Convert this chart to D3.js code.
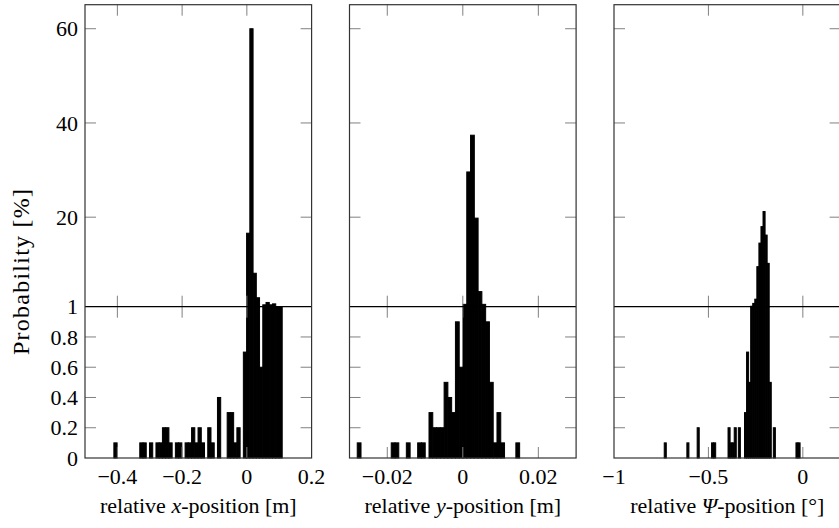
<!DOCTYPE html>
<html>
<head>
<meta charset="utf-8">
<script src="https://cdn.jsdelivr.net/npm/d3@7/dist/d3.min.js"></script>
<style>
    body { margin: 0; background: #fff; }
    svg { display: block; }
    text { font-family: "Liberation Serif", "Times New Roman", serif; fill: #000; }
</style>
</head>
<body>
<svg id="mainsvg" width="839" height="528"></svg>
<script>
// histogram values in %, one entry per bin
let xPosBins = [0.1, 0, 0, 0, 0, 0, 0, 0, 0.1, 0.1,
                0, 0.1, 0, 0.1, 0.1, 0.2, 0.2, 0.1, 0, 0.1,
                0.1, 0, 0.1, 0.1, 0.2, 0.1, 0.2, 0.1, 0, 0.2,
                0.1, 0, 0.4, 0, 0, 0.3, 0.3, 0.1, 0.2, 0,
                0.7, 16.6, 60, 8.1, 2.9, 0.6, 1.4, 1.9, 1.4, 1.6,
                1.0, 1.0];
let xPosBinStart = -0.4108;
let xPosBinWidth = 0.01;

let yPosBins = [0.1, 0, 0, 0, 0, 0, 0, 0, 0, 0.1,
                0.1, 0, 0, 0.1, 0, 0, 0.1, 0.1, 0, 0.3,
                0.2, 0.2, 0.2, 0.5, 0.4, 0.3, 0.9, 0.6, 1.5, 29.6,
                37.4, 19.8, 4.2, 1.5, 0.9, 0.5, 0.1, 0.3, 0.1, 0,
                0, 0, 0.1];
let yPosBinStart = -0.02795;
let yPosBinWidth = 0.001;

let psiBins = [0.1, 0, 0, 0, 0, 0, 0, 0, 0, 0,
               0, 0.1, 0, 0, 0, 0, 0.2, 0, 0, 0,
               0, 0, 0, 0.1, 0.1, 0, 0, 0, 0, 0,
               0, 0.2, 0.1, 0.1, 0.2, 0, 0.2, 0, 0, 0.3,
               0.7, 0.5, 1.1, 1.7, 2.6, 9.5, 14.5, 18.0, 21.2, 16.2,
               10.2, 0.5, 0, 0.2, 0, 0, 0, 0, 0, 0,
               0, 0, 0, 0, 0.1, 0.1];
let psiBinStart = -0.734;
let psiBinWidth = 0.0109;

// axes
let xPosDomain = [-0.5, 0.2];
let xPosTicks = [-0.4, -0.2, 0, 0.2];
let xPosTickLabels = ["\u22120.4", "\u22120.2", "0", "0.2"];
let yPosDomain = [-0.03, 0.03];
let yPosTicks = [-0.02, 0, 0.02];
let yPosTickLabels = ["\u22120.02", "0", "0.02"];
let psiDomain = [-1, 0.2];
let psiTicks = [-1, -0.5, 0];
let psiTickLabels = ["\u22121", "\u22120.5", "0"];

let upperDomain = [1, 65.1];
let upperTicks = [1, 20, 40, 60];
let upperTickLabels = ["1", "20", "40", "60"];
let lowerDomain = [0, 1];
let lowerTicks = [0, 0.2, 0.4, 0.6, 0.8];
let lowerTickLabels = ["0", "0.2", "0.4", "0.6", "0.8"];

let axisLabels = [
    ["relative ", "x", "-position [m]"],
    ["relative ", "y", "-position [m]"],
    ["relative ", "\u03A8", "-position [\u00B0]"]
];

let HistPlot = function () {
    let that = this;
    let svg = d3.select("#mainsvg");

    let panelLeft = [85, 349.5, 614];
    let panelW = 226.6;
    let topY = 4.7, breakY = 306.7, bottomY = 458;
    let tickLen = 11;
    let fontSize = 22;

    let yUpper = d3.scaleLinear().domain(upperDomain).range([breakY, topY]);
    let yLower = d3.scaleLinear().domain(lowerDomain).range([bottomY, breakY]);

    let panels = [
        {bins: xPosBins, start: xPosBinStart, width: xPosBinWidth, domain: xPosDomain, ticks: xPosTicks, labels: xPosTickLabels},
        {bins: yPosBins, start: yPosBinStart, width: yPosBinWidth, domain: yPosDomain, ticks: yPosTicks, labels: yPosTickLabels},
        {bins: psiBins, start: psiBinStart, width: psiBinWidth, domain: psiDomain, ticks: psiTicks, labels: psiTickLabels}
    ];

    that.drawPanel = function (p, k) {
        let x0 = panelLeft[k], x1 = x0 + panelW;
        let xs = d3.scaleLinear().domain(p.domain).range([x0, x1]);
        let g = svg.append("g").attr("class", "panel");

        let data = p.bins.map((v, i) => ({v: v, a: p.start + i * p.width, b: p.start + (i + 1) * p.width}))
            .filter(d => d.v > 0);

        // lower part, values capped at 1
        g.append("g").selectAll("rect").data(data).enter()
            .append("rect")
            .attr("x", d => xs(d.a))
            .attr("width", d => xs(d.b) - xs(d.a))
            .attr("y", d => yLower(Math.min(d.v, 1)))
            .attr("height", d => yLower(0) - yLower(Math.min(d.v, 1)))
            .attr("fill", "#000").attr("stroke", "#000").attr("stroke-width", 1);

        // upper part, only bins above 1
        g.append("g").selectAll("rect").data(data.filter(d => d.v > 1)).enter()
            .append("rect")
            .attr("x", d => xs(d.a))
            .attr("width", d => xs(d.b) - xs(d.a))
            .attr("y", d => yUpper(d.v))
            .attr("height", d => yUpper(1) - yUpper(d.v))
            .attr("fill", "#000").attr("stroke", "#000").attr("stroke-width", 1);

        // ticks
        let tickg = g.append("g").attr("stroke", "#808080").attr("stroke-width", 1);
        let inner = p.ticks.filter(t => t > p.domain[0] && t < p.domain[1]);
        inner.forEach(t => {
            let x = xs(t);
            tickg.append("line").attr("x1", x).attr("x2", x).attr("y1", topY).attr("y2", topY + tickLen);
            tickg.append("line").attr("x1", x).attr("x2", x).attr("y1", breakY - tickLen).attr("y2", breakY + tickLen);
            tickg.append("line").attr("x1", x).attr("x2", x).attr("y1", bottomY - tickLen).attr("y2", bottomY);
        });
        let yt = upperTicks.filter(t => t > 1).map(t => yUpper(t))
            .concat(lowerTicks.filter(t => t > 0).map(t => yLower(t)));
        yt.forEach(y => {
            tickg.append("line").attr("x1", x0).attr("x2", x0 + tickLen).attr("y1", y).attr("y2", y);
            tickg.append("line").attr("x1", x1 - tickLen).attr("x2", x1).attr("y1", y).attr("y2", y);
        });

        // break line and frame
        g.append("line")
            .attr("x1", x0).attr("x2", x1).attr("y1", breakY).attr("y2", breakY)
            .attr("stroke", "#000").attr("stroke-width", 1.3);
        g.append("rect")
            .attr("x", x0).attr("y", topY).attr("width", panelW).attr("height", bottomY - topY)
            .attr("fill", "none").attr("stroke", "#333").attr("stroke-width", 1.2);

        // x tick labels
        g.append("g").selectAll("text").data(p.ticks).enter()
            .append("text")
            .attr("x", d => xs(d))
            .attr("y", 484)
            .attr("text-anchor", "middle")
            .attr("font-size", fontSize)
            .text((d, i) => p.labels[i]);

        // axis label
        let lab = g.append("text")
            .attr("x", (x0 + x1) / 2)
            .attr("y", 513)
            .attr("text-anchor", "middle")
            .attr("font-size", fontSize);
        lab.append("tspan").text(axisLabels[k][0]);
        lab.append("tspan").attr("font-style", "italic").text(axisLabels[k][1]);
        lab.append("tspan").text(axisLabels[k][2]);
    };

    that.drawYAxis = function () {
        let g = svg.append("g").attr("font-size", fontSize);
        let x = panelLeft[0] - 7;
        upperTicks.forEach((t, i) => {
            g.append("text").attr("x", x).attr("y", yUpper(t)).attr("dy", "0.35em")
                .attr("text-anchor", "end").text(upperTickLabels[i]);
        });
        lowerTicks.forEach((t, i) => {
            g.append("text").attr("x", x).attr("y", yLower(t)).attr("dy", "0.35em")
                .attr("text-anchor", "end").text(lowerTickLabels[i]);
        });
        g.append("text")
            .attr("transform", "translate(29,272) rotate(-90)")
            .attr("text-anchor", "middle")
            .attr("font-size", 24)
            .attr("textLength", 166)
            .attr("lengthAdjust", "spacing")
            .text("Probability [%]");
    };

    that.init = function () {
        panels.forEach((p, k) => that.drawPanel(p, k));
        that.drawYAxis();
    }.call();
};

new HistPlot();
</script>
</body>
</html>
